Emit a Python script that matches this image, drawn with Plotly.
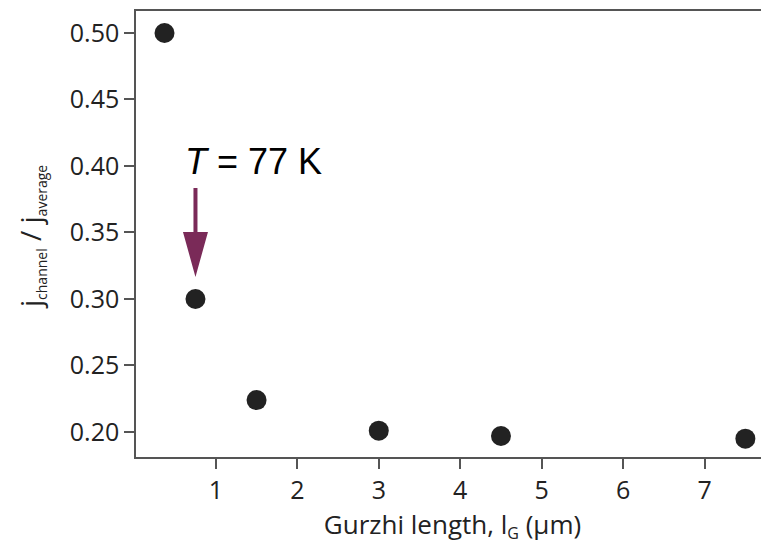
import plotly.graph_objects as go

# Data
gurzhi_length = [0.37, 0.75, 1.5, 3.0, 4.5, 7.5]
j_ratio = [0.500, 0.300, 0.224, 0.201, 0.197, 0.195]
x_ticks = [1, 2, 3, 4, 5, 6, 7]
y_ticks = [0.20, 0.25, 0.30, 0.35, 0.40, 0.45, 0.50]
annot_text = "<i>T</i> = 77 K"
annot_index = 1

W, H = 761, 542
fig = go.Figure()
fig.add_trace(go.Scatter(
    x=gurzhi_length, y=j_ratio, mode="markers",
    marker=dict(size=20, color="#222222", line=dict(width=0)),
    showlegend=False, hoverinfo="x+y",
))

ax_col = "#555555"
txt_col = "#222222"
font_fam = "Open Sans, DejaVu Sans, sans-serif"

sub = '<sub><span style="font-size:14px">{}</span></sub>'
ytitle = "j" + sub.format("channel") + " / j" + sub.format("average")
xtitle = "Gurzhi length, l" + '<sub><span style="font-size:16px">G</span></sub>' + " (µm)"

fig.update_layout(
    width=W, height=H,
    margin=dict(l=128, r=0, t=3, b=93),
    paper_bgcolor="white", plot_bgcolor="white",
    font=dict(family=font_fam, color=txt_col, size=24),
    xaxis=dict(
        range=[0.02, 7.79], tickvals=x_ticks, ticktext=[str(v) for v in x_ticks],
        showgrid=False, zeroline=False, showline=True, linecolor=ax_col, linewidth=1.5,
        mirror=True, ticks="outside", ticklen=10, tickwidth=1.5, tickcolor=ax_col,
        tickfont=dict(size=25, color=txt_col),
        title=dict(text=xtitle, font=dict(size=26, color=txt_col), standoff=8),
    ),
    yaxis=dict(
        range=[0.1812, 0.5165], tickvals=y_ticks, ticktext=[f"{v:.2f}" for v in y_ticks],
        showgrid=False, zeroline=False, showline=True, linecolor=ax_col, linewidth=1.5,
        mirror=False, ticks="outside", ticklen=10, tickwidth=1.5, tickcolor=ax_col,
        tickfont=dict(size=25, color=txt_col),
    ),
)

# y-axis title placed as a rotated annotation
fig.add_annotation(
    x=0, y=0.5, xref="paper", yref="paper", text=ytitle, showarrow=False,
    textangle=-90, xanchor="center", yanchor="middle", xshift=-105, yshift=-3,
    font=dict(family=font_fam, size=28, color=txt_col),
)

# annotation text above the arrow
ax_x = gurzhi_length[annot_index]
ax_y = j_ratio[annot_index]
fig.add_annotation(
    x=ax_x, y=ax_y, xref="x", yref="y", text=annot_text, showarrow=False,
    xanchor="left", yanchor="middle", xshift=-12, yshift=137,
    font=dict(family="Liberation Sans, Arial, sans-serif", size=36, color="black"),
)

# arrow drawn as a pixel-sized path anchored on the highlighted point
arrow_path = "M -2,67 L -2,111 L 2,111 L 2,67 L 12.5,67 L 0,22 L -12.5,67 Z"
fig.add_shape(
    type="path", xref="x", yref="y", xsizemode="pixel", ysizemode="pixel",
    xanchor=ax_x, yanchor=ax_y, path=arrow_path,
    fillcolor="#7a2a58", line=dict(width=0),
)

fig.write_html("out.html")
